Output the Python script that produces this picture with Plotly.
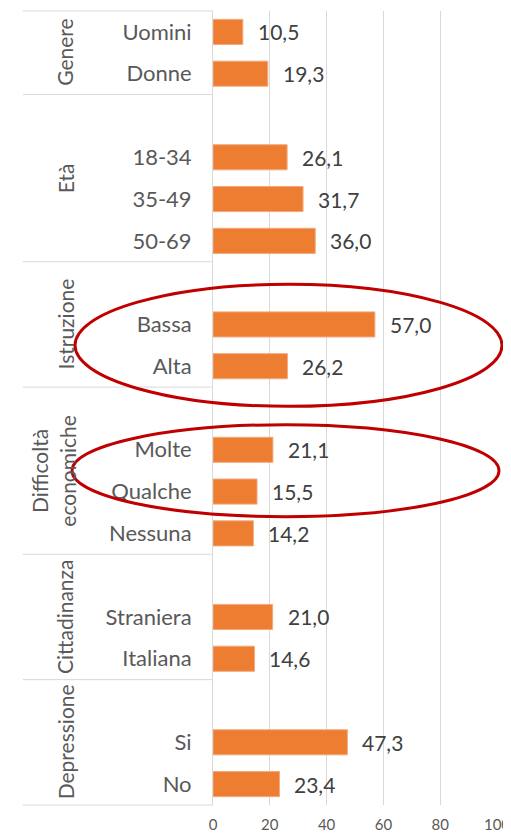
import plotly.graph_objects as go

# ---------------- data ----------------
groups = ["Genere", "Età", "Istruzione", "Difficoltà<br>economiche", "Cittadinanza", "Depressione"]
group_categories = [
    ["Uomini", "Donne"],
    ["", "18-34", "35-49", "50-69"],
    ["", "Bassa", "Alta"],
    ["", "Molte", "Qualche", "Nessuna"],
    ["", "Straniera", "Italiana"],
    ["", "Si", "No"],
]
group_values = [
    [10.5, 19.3],
    [None, 26.1, 31.7, 36.0],
    [None, 57.0, 26.2],
    [None, 21.1, 15.5, 14.2],
    [None, 21.0, 14.6],
    [None, 47.3, 23.4],
]
x_ticks = [0, 20, 40, 60, 80, 100]
highlighted = ["Istruzione", "Difficoltà<br>economiche"]

# ---------------- layout constants ----------------
OFF = 8                      # default page body margin
W, H = 511 - OFF, 840 - 2 * OFF
PL, PR, PT, PB = 213, 497, 11, 805   # plot area in page pixels
ML, MR, MT, MB = PL - OFF, W - (PR - OFF), PT - OFF, H - (PB - OFF)
PW, PH = PR - PL, PB - PT
BAR = "#ED7D31"
GRID = "#D9D9D9"
FONT = "Lato"

def px_x(px):
    return (px - PL) / PW

# flatten rows
labels, values, positions, starts = [], [], [], []
row = 0
for cats, vals in zip(group_categories, group_values):
    starts.append(row)
    for c, v in zip(cats, vals):
        labels.append(c)
        values.append(v)
        positions.append(row)
        row += 1
N = row

fig = go.Figure()
fig.add_trace(go.Bar(
    x=values, y=positions, orientation="h",
    marker=dict(color=BAR, line=dict(color="#F4A87A", width=1)),
    width=0.6, hoverinfo="skip", showlegend=False,
))

annotations = []
for v, p in zip(values, positions):
    if v is None:
        continue
    annotations.append(dict(
        x=v, y=p, xref="x", yref="y", text=f"{v:.1f}".replace(".", ","),
        showarrow=False, xanchor="left", yanchor="middle", xshift=13,
        font=dict(family=FONT, size=21, color="#404040"),
    ))

shapes = []
# group separator lines in the label area
bounds = starts + [N]
for b in bounds:
    yp = 1 - b / N
    shapes.append(dict(type="line", xref="paper", yref="paper",
                       x0=px_x(23), x1=0, y0=yp, y1=yp,
                       line=dict(color=GRID, width=1)))

for g, s, cats in zip(groups, starts, group_categories):
    n = len(cats)
    yc = 1 - (s + n / 2) / N
    xc = px_x(53) if "<br>" in g else px_x(65)
    annotations.append(dict(
        x=xc, y=yc, xref="paper", yref="paper", text=g, textangle=-90,
        showarrow=False, xanchor="center", yanchor="middle",
        font=dict(family=FONT, size=21, color="#595959"),
    ))

# highlight ellipses around selected groups
ell_spec = {
    "Istruzione": (75, 502, 1.46),
    "Difficoltà<br>economiche": (72, 499, 1.1),
}
for g in highlighted:
    gi = groups.index(g)
    s = starts[gi]
    yc = 1 - (s + 2) / N
    x0p, x1p, half = ell_spec[g]
    shapes.append(dict(type="circle", xref="paper", yref="paper",
                       x0=px_x(x0p), x1=px_x(x1p),
                       y0=yc - half / N, y1=yc + half / N,
                       line=dict(color="#C00000", width=3)))

fig.update_layout(
    width=W, height=H,
    margin=dict(l=ML, r=MR, t=MT, b=MB, autoexpand=False),
    paper_bgcolor="white", plot_bgcolor="white",
    bargap=0.4,
    annotations=annotations, shapes=shapes,
    font=dict(family=FONT, color="#595959"),
    xaxis=dict(range=[0, 100], tickvals=x_ticks, showgrid=True, gridcolor=GRID,
               gridwidth=1, zeroline=False, showline=False, ticks="",
               ticklabelstandoff=9, automargin=False, ticklabeloverflow="allow",
               tickfont=dict(family=FONT, size=15, color="#595959"),
               fixedrange=True),
    yaxis=dict(range=[N - 0.5, -0.5], tickvals=[p for p, l in zip(positions, labels) if l],
               ticktext=[l for l in labels if l], showgrid=False, zeroline=False,
               showline=True, linecolor=GRID, linewidth=1, ticks="",
               ticklabelstandoff=16, automargin=False,
               tickfont=dict(family=FONT, size=22, color="#595959"),
               fixedrange=True),
)

fig.write_html("out.html")
